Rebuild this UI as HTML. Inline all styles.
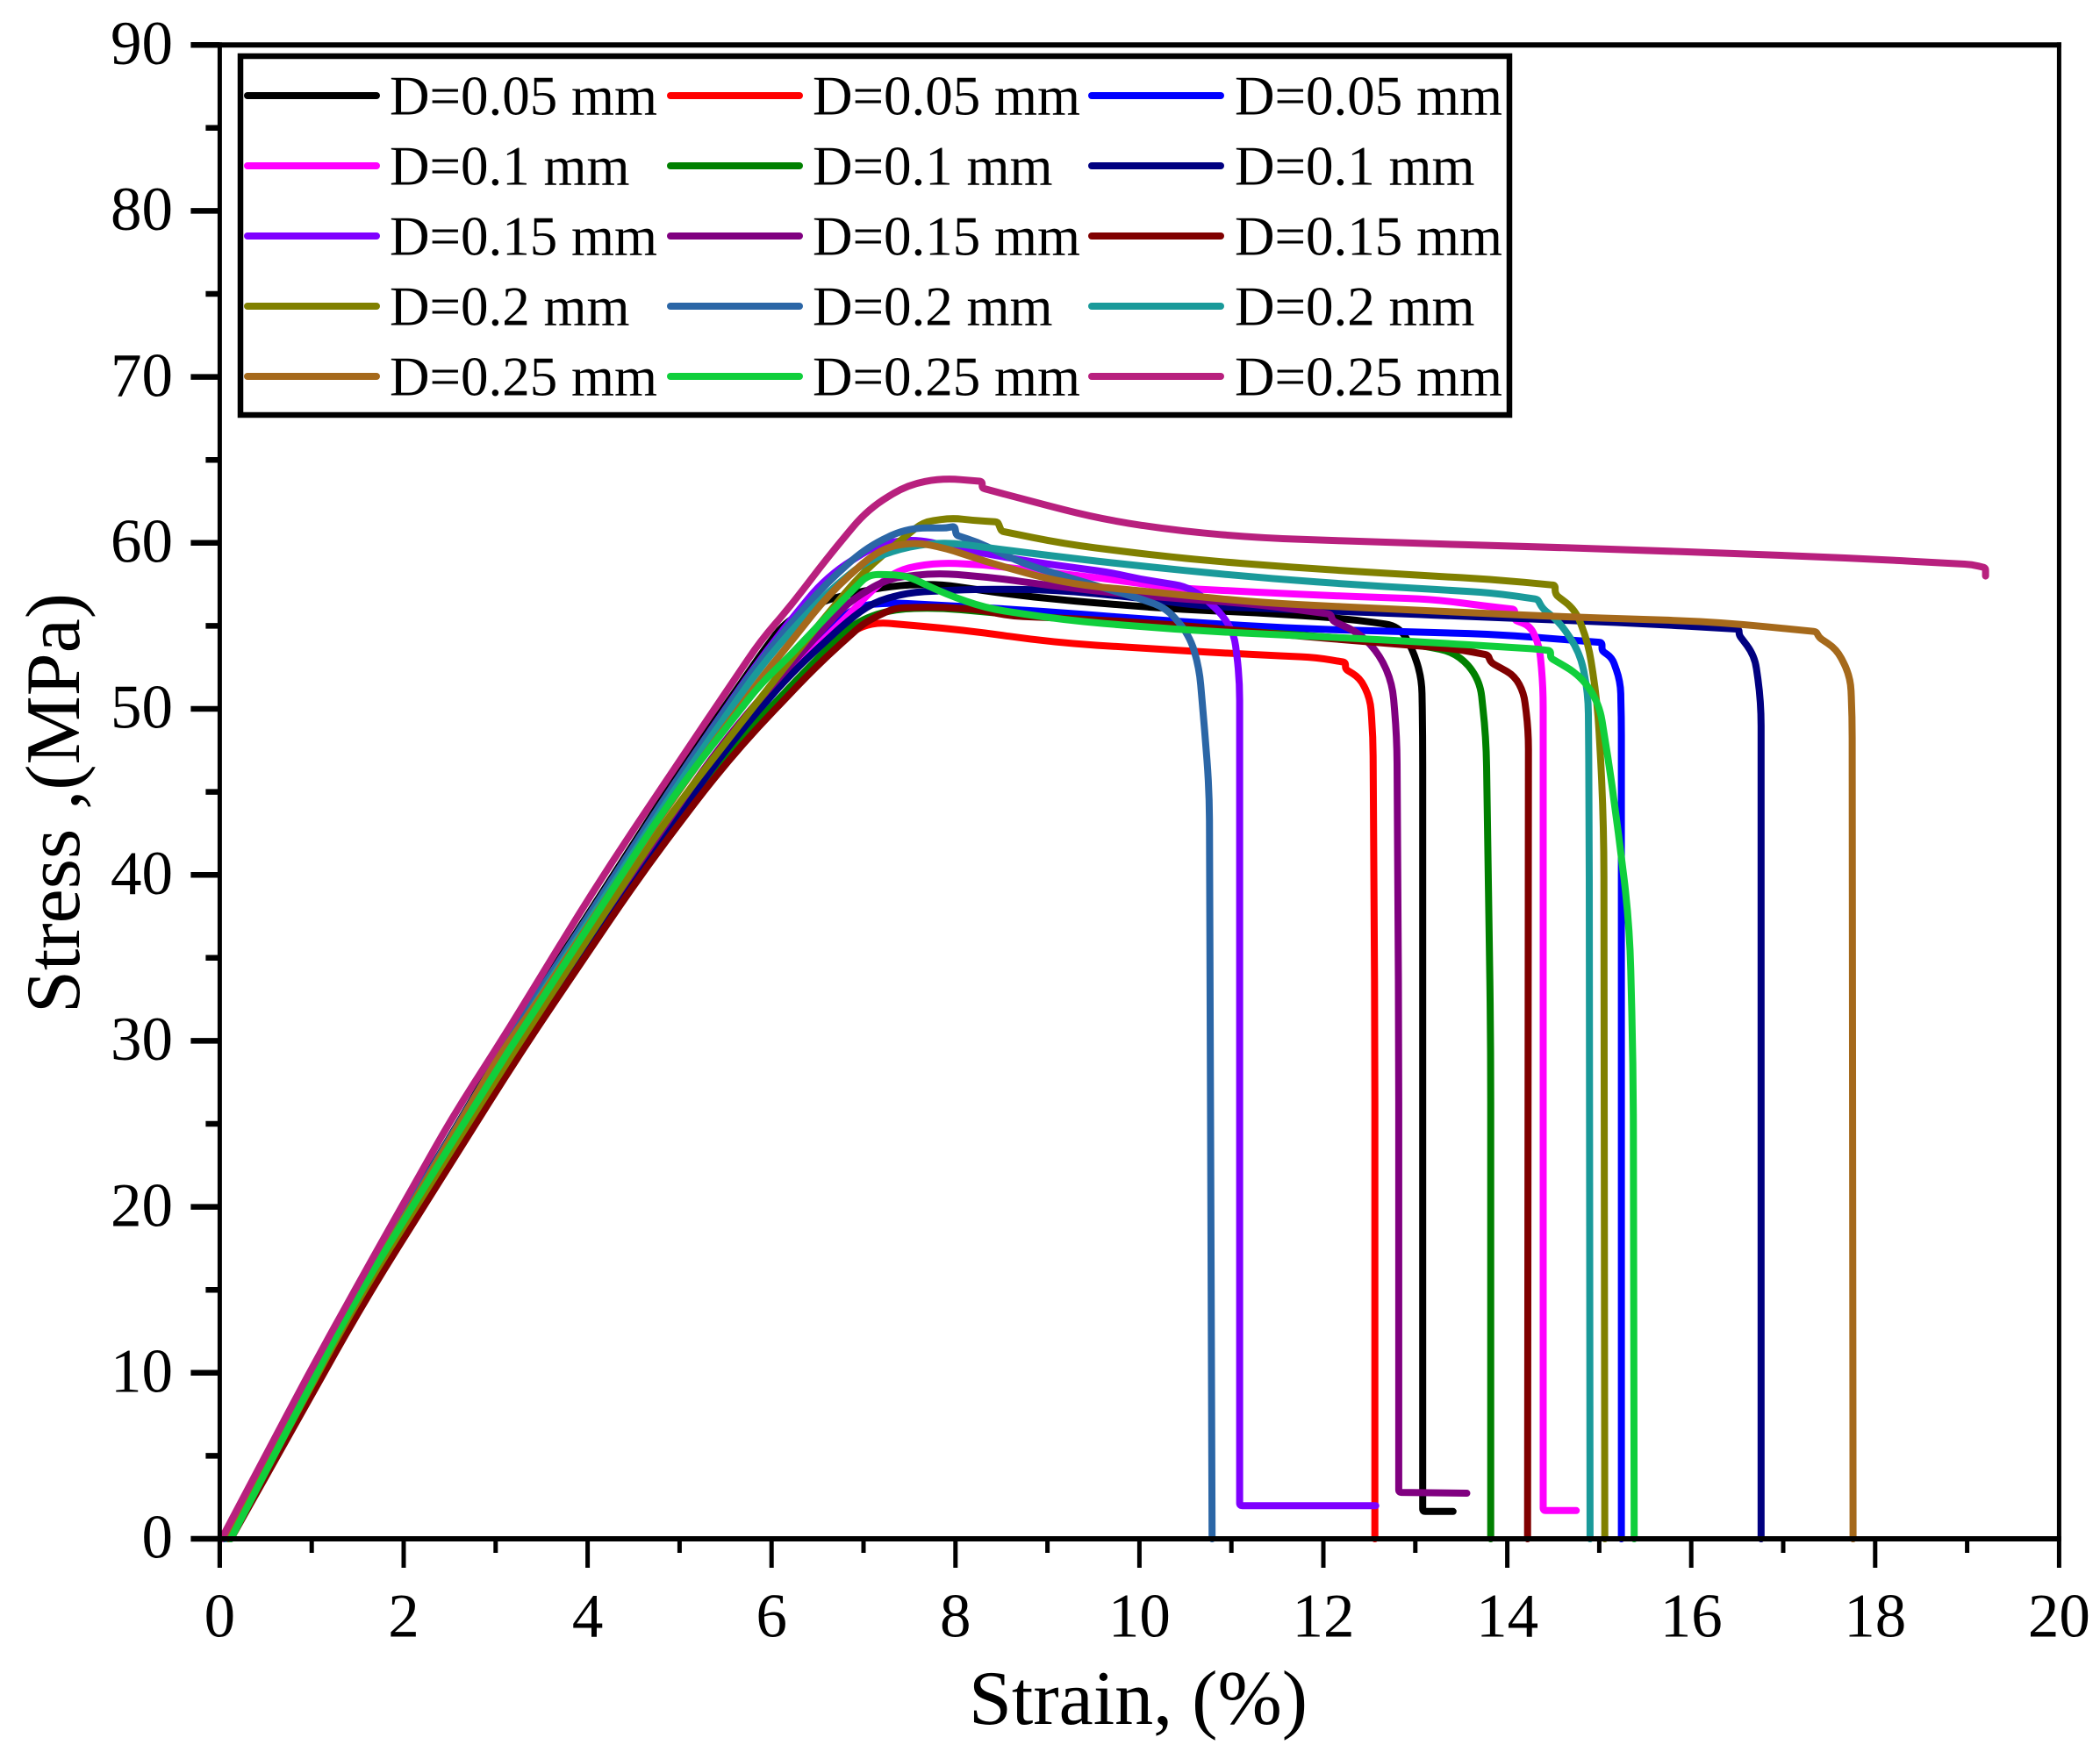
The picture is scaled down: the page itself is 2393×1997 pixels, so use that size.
<!DOCTYPE html>
<html lang="en">
<head>
<meta charset="utf-8">
<title>Stress-strain curves</title>
<style>
html,body{margin:0;padding:0;background:#fff;}
svg{display:block;}
text{font-family:"Liberation Serif","DejaVu Serif",serif;fill:#000;}
</style>
</head>
<body>
<svg id="chart" xmlns="http://www.w3.org/2000/svg" width="2393" height="1997" viewBox="0 0 2393 1997">
<rect x="0" y="0" width="2393" height="1997" fill="#ffffff"/>
<g id="curves"></g>
<g id="axes"></g>
<g id="legend"></g>
<text x="1297" y="1965" font-size="88" text-anchor="middle">Strain, (%)</text>
<text transform="translate(90,915.5) rotate(-90)" font-size="88" text-anchor="middle">Stress ,(MPa)</text>
</svg>
<script>
const xTickLabels = ['0','2','4','6','8','10','12','14','16','18','20'];
const yTickLabels = ['0','10','20','30','40','50','60','70','80','90'];
const xMinorTicks = [1,3,5,7,9,11,13,15,17,19];
const yMinorTicks = [5,15,25,35,45,55,65,75,85];

const blackStrain = [0.05,1.45,3.05,3.4,5.0,5.95,6.13,6.5,6.9,7.3,7.79,8.74,9.7,10.5,11.29,12.24,12.82,12.97,13.07,13.08,13.08,13.41];
const blackStress = [0,14.4,29.3,32.4,46.2,53.8,55.1,56.4,57.0,57.4,57.55,56.77,56.3,55.97,55.8,55.44,55,53.6,51.85,48.3,1.65,1.65];
const redStrain = [0.1,1.56,3.2,4.6,5.56,6.4,6.8,7.0,7.18,8.1,9.06,10.03,11.13,11.92,12.24,12.24,12.4,12.51,12.54,12.56,12.56];
const redStress = [0,14.4,29.3,40.3,47.3,52.3,54.4,55,55.2,54.75,54,53.65,53.3,53.1,52.8,52.4,51.85,50.6,48.3,30,0];
const blueStrain = [0.1,1.55,3.2,4.6,5.5,6.3,6.6,6.92,7.28,8.74,10.33,11.6,12.56,13.83,14.33,15.03,15.03,15.14,15.23,15.24,15.24];
const blueStress = [0,14.4,29.4,40.5,47.6,52.7,54.7,56.2,56.4,55.97,55.3,54.86,54.7,54.5,54.3,54,53.5,53.07,51.66,49.5,0];
const fuchsiaStrain = [0.1,1.54,3.2,4.6,5.5,6.51,6.83,7.1,7.38,7.79,8.27,9.7,10.33,11.92,13.2,13.75,14.08,14.08,14.25,14.35,14.39,14.39,14.75];
const fuchsiaStress = [0,14.4,29.5,40.6,47.8,53.9,55.6,57.2,58.4,58.8,58.7,57.8,57.3,56.85,56.6,56.2,56,55.35,55,53.77,51.3,1.7,1.7];
const greenStrain = [0.1,1.55,3.2,4.6,5.5,6.4,6.9,7.3,7.8,9,10.33,11.6,12.88,13.45,13.7,13.77,13.82,13.82];
const greenStress = [0,14.4,29.4,40.4,47.2,52.5,55.2,56,56.1,55.5,55,54.5,54,53.4,51.8,48.3,30,0];
const navyStrain = [0.1,1.52,3.2,4.6,5.5,6.2,6.83,7.1,7.47,8.1,9.06,10.02,10.65,11.6,12.56,13.83,15.29,16.52,16.52,16.69,16.76,16.76];
const navyStress = [0,14.4,29.5,40.5,47.6,52.1,55.3,56.4,57,57.2,57.2,56.67,56.2,56,55.8,55.5,55.2,54.8,54.45,53.2,50.4,0];
const violetStrain = [0.05,1.45,3.05,3.4,5.0,5.95,6.6,7.15,7.54,8.58,9.7,10.02,10.49,10.68,10.9,11.03,11.09,11.09,11.09,12.57];
const violetStress = [0,14.4,29.2,32.3,46,53.6,58,59.9,60.25,59.05,58.2,57.8,57.4,56.8,55.7,54.5,51.85,48.3,2,2];
const purpleStrain = [0.1,1.52,3.15,4.6,5.5,6.51,6.83,7.15,7.34,7.79,8.43,9.06,10.02,11.29,12.08,12.1,12.4,12.62,12.75,12.8,12.82,12.82,13.56];
const purpleStress = [0,14.4,29.4,41,48.3,54.5,56.4,57.5,57.9,58.2,57.9,57.4,56.8,56.3,55.7,55.3,54.55,53.2,51.5,48.3,30,2.8,2.75];
const maroonStrain = [0.12,1.58,3.27,4.6,5.56,6.51,6.99,7.15,7.34,7.79,8.27,8.58,9.4,10.33,11.5,12.88,13.46,13.79,13.82,14.08,14.18,14.23,14.22];
const maroonStress = [0,14.4,29.3,40.2,47.2,52.7,55.1,55.6,56.07,56.15,55.97,55.6,55.4,55.1,54.5,53.86,53.6,53.24,52.8,52,50.95,48.7,0];
const oliveStrain = [0.1,1.5,3.2,4.9,5.9,6.5,7.0,7.48,7.65,7.96,8.2,8.46,8.5,9.18,10.46,11.73,12.88,13.84,14.52,14.52,14.74,14.88,14.98,15.05,15.06];
const oliveStress = [0,14.4,29.4,43.7,50.8,55,58.3,60.5,61.26,61.5,61.35,61.26,60.7,59.94,59.05,58.5,58.1,57.8,57.45,56.9,55.97,53.96,50.4,43.4,0];
const steelStrain = [0.05,1.45,3.05,3.4,5.0,5.95,6.6,7.05,7.48,7.9,7.99,8.01,8.24,8.76,9.18,10.03,10.29,10.54,10.65,10.71,10.76,10.79];
const steelStress = [0,14.4,29.2,32.3,46,53.5,57.6,59.8,60.9,60.9,61,60.46,60.04,58.7,58,56.6,56.07,54.5,52.5,48.7,45.1,0];
const tealStrain = [0.08,1.46,3.1,3.4,5.0,5.95,6.6,7.05,7.5,7.9,9.06,10.02,11.29,12.56,13.83,14.33,14.38,14.57,14.79,14.88,14.89,14.9];
const tealStress = [0,14.4,29.3,32,45.6,53.1,57,59,59.8,60.04,59.2,58.6,57.9,57.4,57,56.6,56.07,55.2,53.4,50.95,43.4,0];
const brownStrain = [0.1,1.48,3.06,3.4,5.0,5.95,6.2,6.62,7.05,7.26,7.56,7.9,8.33,9.18,10.46,11.31,12.88,14.81,16.26,17.36,17.39,17.58,17.73,17.75,17.76];
const brownStress = [0,14.4,29.3,31.9,45.2,52.3,53.96,56.9,59.05,59.75,60.04,59.67,58.87,57.55,56.87,56.4,55.97,55.5,55.26,54.65,54.3,53.6,52,49.5,0];
const limeStrain = [0.12,1.47,3.13,3.336,4.93,5.88,6.2,6.62,7.05,7.26,7.48,7.9,8.33,9.18,10.46,12.88,14.33,14.47,14.47,14.8,15,15.1,15.21,15.33,15.37,15.38];
const limeStress = [0,14.4,29.3,31.07,44.8,51.5,53.2,55.7,58.08,58.1,58,56.9,56.07,55.35,54.75,54.1,53.6,53.5,53.07,52,50.3,46.9,42.5,37,28,0];
const crimsonStrain = [0.02,1.03,1.78,2.54,2.98,3.336,4.1,4.93,5.88,6.2,6.62,7.05,7.48,7.86,8.29,8.29,8.76,9.6,10.46,11.3,12.87,15.29,17.7,19.05,19.2,19.2];
const crimsonStress = [0,10.6,18.07,25.5,29.3,32.47,39.4,46.3,54.1,56.15,59.2,62.05,63.5,63.9,63.7,63.3,62.6,61.4,60.7,60.3,60,59.6,59.1,58.7,58.5,58];

const seriesLabels = ['D=0.05 mm','D=0.05 mm','D=0.05 mm','D=0.1 mm','D=0.1 mm','D=0.1 mm','D=0.15 mm','D=0.15 mm','D=0.15 mm','D=0.2 mm','D=0.2 mm','D=0.2 mm','D=0.25 mm','D=0.25 mm','D=0.25 mm'];
const seriesKeys = ['black','red','blue','fuchsia','green','navy','violet','purple','maroon','olive','steel','teal','brown','lime','crimson'];
const seriesColors = ['#000000','#ff0000','#0000ff','#ff00ff','#008000','#000080','#7f00ff','#800080','#800000','#808000','#2b66a6','#1a9a9a','#a5691b','#10cf3c','#b8207e'];
const seriesStrain = [blackStrain,redStrain,blueStrain,fuchsiaStrain,greenStrain,navyStrain,violetStrain,purpleStrain,maroonStrain,oliveStrain,steelStrain,tealStrain,brownStrain,limeStrain,crimsonStrain];
const seriesStress = [blackStress,redStress,blueStress,fuchsiaStress,greenStress,navyStress,violetStress,purpleStress,maroonStress,oliveStress,steelStress,tealStress,brownStress,limeStress,crimsonStress];

const NS = 'http://www.w3.org/2000/svg';
const plot = {x0: 250.4, xPerUnit: 104.8, y0: 1754, yPerUnit: 18.92};
function xScale(v){ return plot.x0 + plot.xPerUnit * v; }
function yScale(v){ return plot.y0 - plot.yPerUnit * v; }

const curvesGroup = document.getElementById('curves');
const axesGroup = document.getElementById('axes');
const legendGroup = document.getElementById('legend');

function make(tag, attrs, parent){
  const el = document.createElementNS(NS, tag);
  for (const k in attrs) el.setAttribute(k, attrs[k]);
  parent.appendChild(el);
  return el;
}

function smoothPath(xs, ys){
  const f = function(v){ return v.toFixed(1); };
  let d = 'M' + f(xs[0]) + ' ' + f(ys[0]);
  for (let i = 1; i < xs.length - 1; i++){
    const ax = xs[i] - xs[i-1], ay = ys[i] - ys[i-1];
    const bx = xs[i+1] - xs[i], by = ys[i+1] - ys[i];
    const a = Math.hypot(ax, ay), b = Math.hypot(bx, by);
    if (a < 0.01 || b < 0.01) continue;
    const cosTurn = (ax * bx + ay * by) / (a * b);
    const r = cosTurn < 0.6 ? Math.min(a / 2, b / 2, 3) : Math.min(a / 2, b / 2, 70);
    d += 'L' + f(xs[i] - ax / a * r) + ' ' + f(ys[i] - ay / a * r);
    d += 'Q' + f(xs[i]) + ' ' + f(ys[i]) + ' ' + f(xs[i] + bx / b * r) + ' ' + f(ys[i] + by / b * r);
  }
  d += 'L' + f(xs[xs.length-1]) + ' ' + f(ys[ys.length-1]);
  return d;
}

seriesKeys.forEach(function(key, i){
  const d = smoothPath(seriesStrain[i].map(xScale), seriesStress[i].map(yScale));
  const line = make('path', {d: d, fill: 'none', stroke: seriesColors[i], 'stroke-width': 8, 'stroke-linejoin': 'round', 'stroke-linecap': 'round'}, curvesGroup);
  
  
});

function axisLine(name, x1, y1, x2, y2, w){
  const l = make('line', {x1: x1, y1: y1, x2: x2, y2: y2, stroke: '#000', 'stroke-width': w}, axesGroup);
  
  
}

const frameLeft = xScale(0), frameRight = xScale(20), frameTop = yScale(90), frameBottom = yScale(0);
const majorLen = 33, minorLen = 16;
axisLine('left-axis', frameLeft, frameTop - 3, frameLeft, frameBottom + majorLen, 5);
axisLine('right-axis', frameRight, frameTop - 3, frameRight, frameBottom, 5);
axisLine('top-axis', frameLeft, frameTop, frameRight + 2.5, frameTop, 6);
axisLine('bottom-axis', frameLeft, frameBottom, frameRight + 2.5, frameBottom, 6);

xTickLabels.forEach(function(lab){
  const x = xScale(Number(lab));
  axisLine('x-major-tick-' + lab, x, frameBottom, x, frameBottom + majorLen, 5);
  const t = make('text', {x: x, y: 1865.7, 'font-size': 71, 'text-anchor': 'middle'}, axesGroup);
  t.textContent = lab;
  
  
});
xMinorTicks.forEach(function(v){
  const x = xScale(v);
  axisLine('x-minor-tick-' + v, x, frameBottom, x, frameBottom + minorLen, 5);
});
yTickLabels.forEach(function(lab){
  const y = yScale(Number(lab));
  axisLine('y-major-tick-' + lab, frameLeft - majorLen, y, frameLeft, y, 6.5);
  const t = make('text', {x: 197, y: y + 21.7, 'font-size': 71, 'text-anchor': 'end'}, axesGroup);
  t.textContent = lab;
  
  
});
yMinorTicks.forEach(function(v){
  const y = yScale(v);
  axisLine('y-minor-tick-' + v, frameLeft - minorLen, y, frameLeft, y, 6.5);
});

const legendBox = make('rect', {x: 274, y: 64, width: 1446, height: 409, fill: '#fff', stroke: '#000', 'stroke-width': 6.5}, legendGroup);


const legendSampleX = [282, 764, 1244];
const legendTextX = [444, 926, 1407];
const legendRowY = [109, 189, 269, 349, 429];
seriesKeys.forEach(function(key, i){
  const col = i % 3, row = Math.floor(i / 3);
  const y = legendRowY[row];
  const s = make('line', {x1: legendSampleX[col], y1: y, x2: legendSampleX[col] + 147, y2: y, stroke: seriesColors[i], 'stroke-width': 8, 'stroke-linecap': 'round'}, legendGroup);
  
  
  const t = make('text', {x: legendTextX[col], y: y + 21.7, 'font-size': 63}, legendGroup);
  t.textContent = seriesLabels[i];
  
  
});
</script>
</body>
</html>
